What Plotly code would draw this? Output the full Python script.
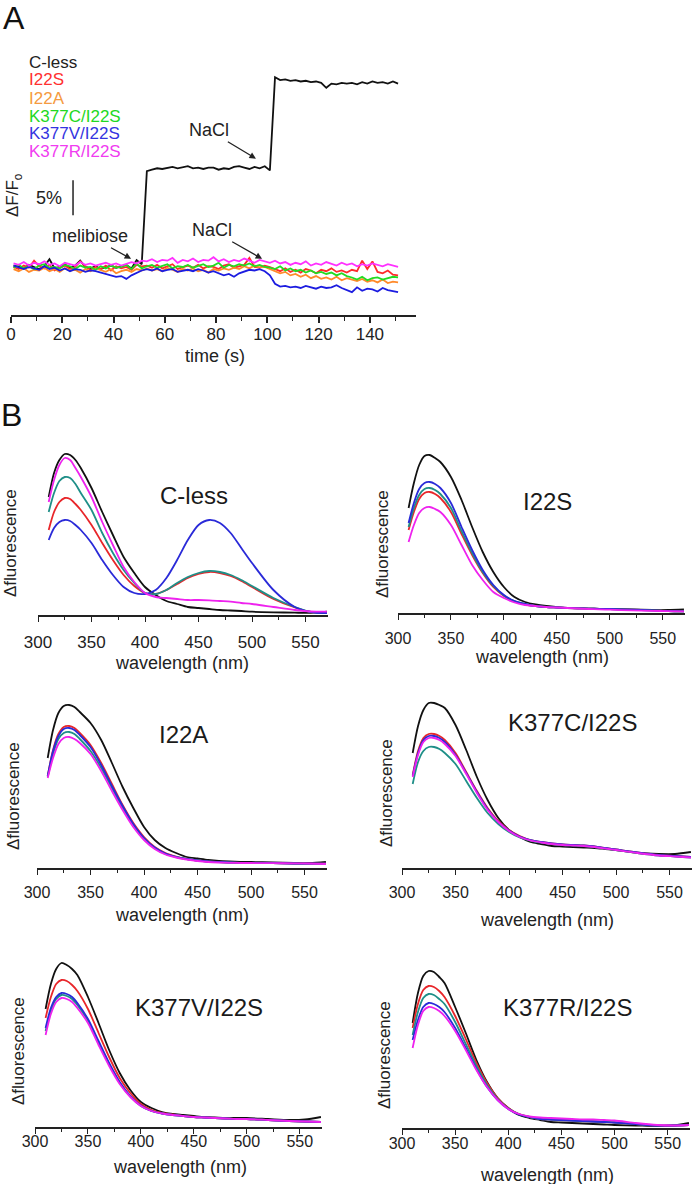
import plotly.graph_objects as go

W, H = 693, 1184
FONT = "Liberation Sans, Arial, sans-serif"

# ---------------- panel A : dF/Fo traces (%) ----------------
time_s = list(range(1, 152, 2))

a_cless = [0.2, 0.1, -0.2, 0.3, 0.0, -0.3, 0.1, 1.1, -0.2, 0.0, 0.4, -0.1, 0.2, 0.9, 0.0, -0.2, 0.1, -0.3, 0.0, 0.2, -0.1, 0.1, 0.3, -0.2, 1.0, 0.4,
           13.7, 13.9, 14.1, 14.0, 14.1, 14.3, 14.1, 14.2, 14.4, 14.1, 14.2, 14.0, 14.2, 14.2, 13.9, 14.1, 14.0, 14.3, 14.4, 14.2, 14.0, 14.3, 14.1, 14.4, 13.8,
           27.1, 26.7, 26.8, 26.6, 26.7, 26.5, 26.6, 26.4, 26.5, 26.3, 25.6, 26.2, 26.1, 26.3, 26.2, 26.3, 26.1, 26.4, 26.2, 26.5, 26.3, 26.4, 26.2, 26.5, 26.2]
a_i22s = [0.0, -0.3, 0.2, -0.1, 0.9, 0.1, -0.2, 0.3, -0.5, -0.1, 0.2, -0.3, 0.0, 0.8, 0.1, -0.4, 0.0, -0.3, 0.2, -0.5, 0.1, -0.2, 0.0, -0.4, 0.3, 0.1,
          0.2, -0.1, 0.3, -0.2, 0.1, 0.4, -0.3, 0.0, 0.2, -0.1, 0.3, -0.2, 0.1, 0.0, -0.3, 0.2, 0.4, -0.1, 0.1, 0.3, 1.3, 0.0, -0.1, 0.2, 0.0,
          -0.3, -0.6, -0.2, -0.7, -0.4, -0.8, -0.3, -0.5, -0.9, -0.4, -0.6, -0.2, -0.7, -0.5, -0.8, -0.4, -0.6, 0.9, -0.3, 0.8, -0.7, -0.9, -0.5, -1.1, -1.2]
a_i22a = [-0.3, -0.6, -0.2, -0.7, -0.4, -0.5, -0.1, -0.6, -0.3, -0.7, -0.2, -0.5, -0.4, -0.8, -0.3, -0.6, -0.2, -0.5, -0.7, -0.3, -0.9, -0.6, -0.4, -0.7, -0.3, -0.5,
          -0.2, -0.5, -0.3, -0.6, -0.1, -0.4, -0.7, -0.3, -0.5, -0.2, -0.6, -0.4, -0.8, -0.3, -0.5, -0.2, -0.4, -0.1, -0.3, 0.1, -0.2, 0.2, -0.1, 0.0, -0.3,
          -0.6, -0.9, -0.7, -1.2, -1.0, -1.4, -1.1, -1.6, -1.3, -1.7, -1.5, -1.8, -1.4, -1.9, -1.6, -1.8, -2.0, -1.7, -2.1, -1.9, -2.2, -1.8, -2.3, -2.1, -2.2]
a_k377c = [-0.1, 0.3, -0.2, 0.1, -0.3, 0.2, 0.4, -0.1, 0.0, -0.2, 0.3, 0.1, -0.3, 0.2, -0.1, 0.0, -0.4, 0.1, -0.2, 0.2, -0.1, 0.0, 0.3, -0.3, 0.5, -0.2,
           0.1, 0.3, -0.1, 0.2, 0.4, -0.2, 0.1, 0.0, 0.3, -0.1, 0.2, 0.4, 0.0, 0.2, 0.6, -0.1, 0.3, 0.1, 0.4, 0.2, 0.5, 0.1, 0.3, 0.0, -0.1,
           -0.3, 0.1, -0.5, -0.2, -0.6, -0.4, -0.8, -0.5, -0.9, -0.7, -1.0, -0.8, -1.2, -0.9, -1.3, -1.5, -1.8, -1.4, -1.9, -1.6, -1.5, -1.8, -1.6, -1.4, -1.5]
a_k377v = [0.2, -0.1, -0.3, 0.0, -0.2, -0.4, 0.1, -0.3, -0.1, -0.5, -0.2, -0.6, -0.3, -0.4, -0.7, -0.5, -0.6, -0.8, -1.0, -1.2, -1.4, -1.3, -1.7, -1.2, -0.8, -0.5,
           -0.3, -0.5, -0.2, -0.6, -0.4, -0.3, -0.7, -0.5, -0.4, -0.6, -0.3, -0.5, -0.8, -0.6, -0.9, -1.2, -1.0, -1.4, -0.9, -0.6, -0.4, -0.5, -0.3, -0.6, -1.2,
           -2.4, -2.8, -2.7, -2.9, -2.8, -3.0, -2.7, -2.9, -3.1, -2.8, -3.0, -2.9, -2.6, -3.0, -3.3, -3.6, -2.9, -3.4, -3.1, -3.2, -3.5, -3.0, -3.3, -3.4, -3.6]
a_k377r = [0.5, 0.3, 0.7, 0.2, 0.6, 0.4, 0.8, 0.3, 0.5, 0.1, 0.6, 0.4, 0.2, 0.7, 0.3, 0.5, 0.2, 0.4, 0.6, 0.3, 0.5, 0.2, 0.4, 0.7, 0.5, 0.9,
           0.8, 1.1, 0.7, 1.0, 0.9, 1.3, 0.6, 1.0, 0.8, 1.2, 0.7, 1.0, 0.9, 1.4, 0.8, 1.1, 0.7, 1.0, 0.8, 1.2, 0.9, 0.6, 1.0, 0.8, 0.6,
           0.9, 0.5, 0.7, 0.3, 0.6, 0.4, 0.8, 0.2, 0.5, 0.3, 0.7, 0.4, 0.2, 0.6, 0.3, 0.5, 0.1, 0.4, 0.2, 0.5, 0.3, 0.1, 0.4, 0.2, 0.0]

a_names = ["C-less", "I22S", "I22A", "K377C/I22S", "K377V/I22S", "K377R/I22S"]
a_line_colors = ["#111111", "#ff2b2b", "#ff8a2a", "#22dc22", "#1c1ce0", "#ff30ff"]
a_text_colors = ["#222222", "#ff3030", "#f59a40", "#22d822", "#3434e0", "#f03cf0"]
a_time_ticks = [0, 20, 40, 60, 80, 100, 120, 140]

# ---------------- panel B : emission spectra ----------------
wl = [310, 315, 320, 325, 330, 335, 340, 350, 360, 370, 380, 390, 400, 410, 420,
      430, 440, 450, 460, 470, 480, 490, 500, 520, 540, 555, 570]

cless_black = [118, 142, 155, 161, 160, 155, 147, 127, 103, 80, 58, 42, 28, 20, 14, 11, 8, 7, 6, 5, 4.5, 4, 3.3, 2.7, 2.3, 2.2, 3.3]
cless_red = [85, 103, 113, 117, 116, 111, 105, 90, 72, 55, 40, 29, 22, 21, 25, 31, 37, 41, 43, 42, 39, 34, 28, 16, 7.5, 3, 2]
cless_teal = [103, 122, 134, 138, 137, 131, 122, 105, 82, 62, 45, 32, 22, 21, 25, 32, 38, 42, 44, 43, 40, 35, 29, 17, 8, 3, 2]
cless_blue = [75, 87, 93, 95, 94, 90, 85, 72, 55, 40, 28, 22, 21, 25, 37, 55, 75, 90, 95, 92, 82, 67, 52, 25, 8, 3, 2]
cless_magenta = [113, 135, 150, 157, 155, 147, 138, 118, 93, 70, 48, 33, 22, 18, 17, 16, 15, 15, 14.7, 14, 13.3, 12, 11, 8, 5, 3.5, 3.3]

i22s_black = [105, 130, 148, 157, 158, 155, 151, 136, 113, 86, 61, 41, 26, 16, 11, 8.5, 7, 6, 5, 4.7, 4.4, 4.2, 4, 3.5, 3, 3, 3.5]
i22s_red = [83, 101, 114, 120, 121, 119, 115, 101, 79, 58, 40, 26, 17, 11.5, 8.5, 7, 6, 5.5, 5, 4.7, 4.4, 4.2, 4, 3.3, 2.7, 2, 1.7]
i22s_teal = [86, 105, 118, 124, 125, 123, 119, 105, 82, 60, 41, 27, 17.5, 12, 9, 7, 6, 5.5, 5, 4.7, 4.4, 4.2, 4, 3.3, 2.7, 2, 1.7]
i22s_blue = [90, 110, 124, 130, 131, 129, 125, 110, 86, 63, 43, 28, 18, 12, 9, 7, 6, 5.5, 5, 4.7, 4.4, 4.2, 4, 3.3, 2.7, 2, 1.7]
i22s_magenta = [71, 88, 100, 105, 106, 104, 101, 88, 68, 48, 33, 21, 15, 10.5, 8, 7, 6, 5.5, 5, 4.5, 4, 3.7, 3.3, 2.7, 2.2, 1.8, 1.7]

i22a_black = [110, 138, 155, 162, 163, 161, 156, 145, 128, 105, 81, 60, 41, 28, 20, 15, 11, 9.5, 8, 7, 6.5, 6.2, 6, 5.5, 5, 5, 6]
i22a_red = [92, 118, 134, 141, 142, 140, 135, 123, 105, 84, 63, 45, 31, 21, 15, 11.5, 9, 7.5, 6.5, 6, 5.5, 5.2, 5, 4.8, 4.5, 4.3, 4.5]
i22a_teal = [91, 114, 129, 135, 136, 134, 129, 117, 100, 80, 60, 43, 29.5, 20, 14, 11, 9, 7.5, 6.5, 6, 5.5, 5.2, 5, 4.8, 4.5, 4.3, 4.3]
i22a_blue = [92, 117, 132, 139, 140, 138, 133, 121, 103, 82, 62, 44, 30, 20.5, 14.5, 11, 9, 7.5, 6.5, 6, 5.5, 5.2, 5, 4.8, 4.5, 4.3, 4.3]
i22a_magenta = [90, 110, 124, 130, 131, 129, 125, 114, 97, 77, 58, 41, 28, 19, 13.5, 10.5, 8.5, 7, 6, 5.5, 5.2, 5, 5, 4.8, 4.7, 4.5, 4]

k377c_black = [115, 142, 158, 165, 165, 163, 160, 143, 118, 91, 68, 50, 38, 31, 26, 24, 22, 21.5, 21, 20.5, 20, 19, 18, 15, 14, 14, 16]
k377c_red = [93, 117, 130, 134, 134, 132, 128, 115, 96, 77, 60, 47, 38, 32, 28, 26, 24.5, 23.5, 23, 22.5, 21.5, 20, 18.5, 15.5, 13, 12, 11]
k377c_teal = [84, 106, 117, 121, 121, 119, 115, 104, 87, 70, 55, 44, 36, 30.5, 27.5, 25.5, 24, 23, 22.5, 22, 21, 19.5, 18, 15, 12.5, 11.5, 10.5]
k377c_blue = [92, 115, 128, 132, 132, 130, 126, 113, 95, 76, 59, 46, 37.5, 31.5, 28, 26, 24.5, 23.5, 23, 22.5, 21.5, 20, 18.5, 15.5, 13, 12, 11]
k377c_magenta = [91, 113, 126, 130, 130, 128, 124, 112, 94, 75, 58, 46, 37, 31, 27.5, 25.5, 24, 23, 22.5, 22, 21, 19.5, 18, 15, 12.5, 11.5, 10.5]

k377v_black = [118, 143, 158, 164, 162, 158, 152, 130, 104, 77, 54, 37, 25, 19, 15, 13, 12, 11, 10, 9.5, 9, 9, 9, 8, 7, 7.5, 10]
k377v_red = [109, 130, 143, 147, 146, 142, 136, 118, 94, 70, 49, 34, 23, 17, 14, 12.5, 11, 10, 9.5, 9, 8.5, 8, 8, 7, 6, 5.5, 5]
k377v_teal = [96, 116, 128, 132, 131, 128, 122, 106, 84, 63, 44, 30.5, 21, 16, 13.5, 12, 11, 10, 9.5, 9, 8.5, 8, 8, 7, 6, 5.5, 5]
k377v_blue = [99, 119, 130, 134, 133, 130, 124, 108, 86, 64, 45, 31, 21.5, 16, 13.5, 12, 11, 10, 9.5, 9, 8.5, 8, 8, 7, 6, 5.5, 5]
k377v_magenta = [92, 113, 125, 129, 128, 125, 119, 104, 82, 61, 43, 30, 21, 16, 13.5, 12, 11, 10, 9.5, 9, 8.5, 8, 8, 7, 6, 5.5, 5]

k377r_black = [105, 135, 152, 157, 156, 151, 145, 121, 95, 68, 46, 30, 20, 13, 10, 8, 6, 5.5, 5, 4.5, 4, 3.5, 3, 2.5, 2, 2.5, 5]
k377r_red = [100, 124, 138, 142, 141, 137, 131, 112, 89, 65, 45, 30, 20, 14, 11, 9, 8.5, 8, 7.5, 7, 6.5, 6, 5.5, 4, 2.5, 2.5, 3]
k377r_teal = [93, 116, 130, 134, 133, 129, 124, 106, 84, 62, 43, 29, 19.5, 14, 11, 9, 8.5, 8, 7.5, 7, 6.5, 6, 5.5, 4, 2.5, 2.5, 3]
k377r_blue = [88, 108, 121, 125, 124, 121, 116, 100, 80, 59, 41, 28, 19, 13.5, 11, 9, 8.5, 8, 7.5, 7, 6.5, 6, 5.5, 4, 2.5, 2.5, 3]
k377r_magenta = [80, 103, 117, 121, 120, 117, 112, 97, 78, 58, 41, 28, 19, 14, 11.5, 10.5, 10, 9.5, 9, 8.5, 8.5, 8, 7.5, 5, 3, 2.5, 3]

b_colors = ["#111111", "#e8262a", "#1f8f88", "#2a2ad8", "#ee22ee"]
wl_ticks = [300, 350, 400, 450, 500, 550]

# subplot boxes in window pixels: (title, curves, x0, x1, axis_y, title_x, title_y, tickfont, standoff)
panels = [
    ("C-less", [cless_black, cless_red, cless_teal, cless_blue, cless_magenta], 38, 328, 615, 194, 495, 17, 6),
    ("I22S", [i22s_black, i22s_red, i22s_teal, i22s_blue, i22s_magenta], 398, 685, 613, 547, 501, 16, 5),
    ("I22A", [i22a_black, i22a_red, i22a_teal, i22a_blue, i22a_magenta], 37, 327, 868, 183, 735, 16, 4),
    ("K377C/I22S", [k377c_black, k377c_red, k377c_teal, k377c_blue, k377c_magenta], 402, 692, 868, 572, 722, 16, 4),
    ("K377V/I22S", [k377v_black, k377v_red, k377v_teal, k377v_blue, k377v_magenta], 35, 322, 1127, 199, 1007, 16, -6),
    ("K377R/I22S", [k377r_black, k377r_red, k377r_teal, k377r_blue, k377r_magenta], 402, 690, 1128, 567, 1007, 16, -5),
]
xlab_pos = [(182, 663), (542, 657), (182, 915), (547, 920), (180, 1167), (547, 1175)]
ylab_pos = [(10, 543), (382, 544), (13, 796), (386, 793), (18, 1051), (384, 1055)]


def fx(p):
    return p / W


def fy(p):
    return 1 - p / H


def note(text, x, y, size, color="#222", **kw):
    # text placed by its centre, in window pixels
    return dict(text=text, x=fx(x), y=fy(y), xref="paper", yref="paper", showarrow=False,
                xanchor=kw.pop("xanchor", "center"), yanchor="middle",
                font=dict(size=size, color=color), **kw)


fig = go.Figure()

for name, vals, col in zip(a_names, [a_cless, a_i22s, a_i22a, a_k377c, a_k377v, a_k377r], a_line_colors):
    fig.add_trace(go.Scatter(x=time_s, y=vals, mode="lines", name=name,
                             line=dict(color=col, width=1.8), xaxis="x", yaxis="y",
                             showlegend=False))

axis_col = "#222222"
layout = dict(
    width=W, height=H, autosize=False,
    margin=dict(l=0, r=0, t=0, b=0, pad=0, autoexpand=False),
    paper_bgcolor="white", plot_bgcolor="white",
    font=dict(family=FONT, color="#222"),
    showlegend=False,
    xaxis=dict(domain=[fx(11), fx(416)], range=[0, 158], anchor="y",
               tickvals=a_time_ticks, ticks="outside", ticklen=6, tickwidth=1.5,
               tickcolor=axis_col, showline=True, linecolor=axis_col, linewidth=2,
               minor=dict(dtick=10, ticks="outside", ticklen=4, tickcolor=axis_col, tickwidth=1.2),
               showgrid=False, zeroline=False, tickfont=dict(size=17, color="#222"),
               ticklabelstandoff=-3),
    yaxis=dict(domain=[fy(315), fy(60)], range=[-6.86, 29.57], visible=False, anchor="x"),
)

annotations = []
shapes = []

for i, (title, curves, x0, x1, yax, tx, ty, tfs, so) in enumerate(panels):
    n = i + 2
    xa, ya = f"x{n}", f"y{n}"
    for vals, col in zip(curves, b_colors):
        fig.add_trace(go.Scatter(x=wl, y=vals, mode="lines",
                                 line=dict(color=col, width=1.8, shape="spline", smoothing=0.8),
                                 xaxis=xa, yaxis=ya, showlegend=False))
    layout[f"xaxis{n}"] = dict(
        domain=[fx(x0), fx(x1)], range=[300, 571], anchor=ya,
        tickvals=wl_ticks, ticks="outside", ticklen=5, tickwidth=1.2, tickcolor=axis_col,
        showline=True, linecolor=axis_col, linewidth=1.5,
        minor=dict(dtick=25, tick0=300, ticks="outside", ticklen=3, tickcolor=axis_col, tickwidth=1),
        showgrid=False, zeroline=False, tickfont=dict(size=tfs, color="#222"),
        ticklabelstandoff=so)
    layout[f"yaxis{n}"] = dict(domain=[fy(yax), fy(yax - 170)], range=[0, 170],
                               visible=False, anchor=xa)
    annotations.append(note(title, tx, ty, 24, "#1a1a1a"))
    lx, ly = xlab_pos[i]
    annotations.append(note("wavelength (nm)", lx, ly, 18))
    vx, vy = ylab_pos[i]
    annotations.append(note("Δfluorescence", vx, vy, 17, textangle=-90))

# panel A texts
annotations.append(note("time (s)", 215, 356, 18))
legend_y = [63, 80, 98, 116, 134, 151]
for name, col, ly in zip(a_names, a_text_colors, legend_y):
    annotations.append(note(name, 27, ly, 17, col, xanchor="left"))
annotations.append(note("ΔF/F<sub>o</sub>", 14, 195, 17, textangle=-90))
annotations.append(note("5%", 49, 198, 18))
# labelled arrows: head in data coords, text offset in pixels
for label, hx, hy, ax, ay in [("NaCl", 95.9, 15.4, -48, -29),
                              ("melibiose", 47.2, 1.1, -42, -23),
                              ("NaCl", 98.3, 1.1, -51, -29)]:
    annotations.append(dict(text=label, x=hx, y=hy, xref="x", yref="y", ax=ax, ay=ay,
                            showarrow=True, arrowhead=2, arrowsize=1, arrowwidth=1.3,
                            arrowcolor="#222", standoff=1, font=dict(size=18, color="#222")))
annotations.append(note("A", 14, 18, 32, "#111"))
annotations.append(note("B", 11, 415, 32, "#111"))

# 5% scale bar
shapes.append(dict(type="line", xref="x", yref="y", x0=24.2, x1=24.2, y0=7.4, y1=12.4,
                   line=dict(color="#222", width=1.5)))

layout["annotations"] = annotations
layout["shapes"] = shapes
fig.update_layout(**layout)
fig.write_html("out.html", config={"displayModeBar": False},
               post_script="document.body.style.margin='0px';")
